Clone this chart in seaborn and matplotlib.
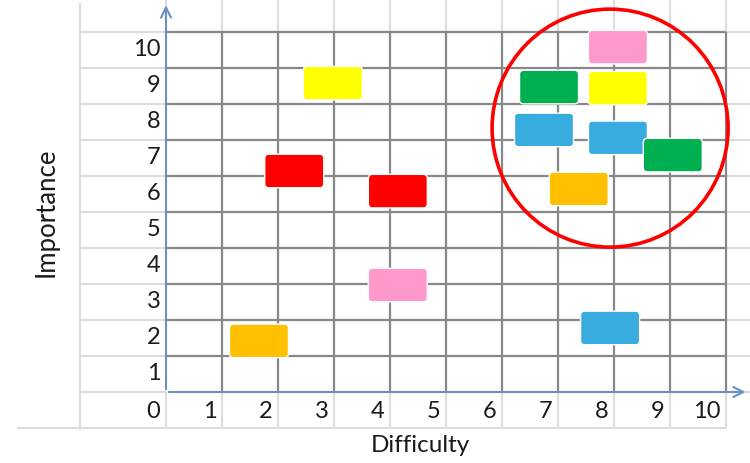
import numpy as np
import pandas as pd
import seaborn as sns
import matplotlib.pyplot as plt
from matplotlib.patches import FancyBboxPatch, Ellipse

# sticky notes on the difficulty / importance grid
difficulty = [2.98, 2.29, 4.14, 8.07, 6.84, 8.07, 6.75, 8.07, 9.05, 7.37, 4.14, 7.93, 1.66]
importance = [8.58, 6.14, 5.58, 9.58, 8.47, 8.44, 7.28, 7.06, 6.58, 5.64, 2.97, 1.78, 1.42]
colour = ['yellow', 'red', 'red', 'pink', 'green', 'yellow', 'blue', 'blue',
          'green', 'orange', 'pink', 'blue', 'orange']
palette = {'yellow': '#ffff00', 'red': '#ff0000', 'pink': '#ff99cc',
           'green': '#00b050', 'blue': '#38acdf', 'orange': '#ffc000'}

x_ticks = list(range(0, 11))
y_ticks = list(range(1, 11))

sns.set_style('white')
plt.rcParams['font.family'] = ['Lato', 'DejaVu Sans']

fig = plt.figure(figsize=(7.5, 4.63), dpi=100)
ax = fig.add_axes([0, 0, 1, 1])
# 56 px per difficulty unit, 36 px per importance unit, origin at (166, 392)
ax.set_xlim(-166 / 56, (750 - 166) / 56)
ax.set_ylim((392 - 463) / 36, 392 / 36)
ax.set_axis_off()

light = '#dcdcdc'
dark = '#888888'
txt = '#1a1a1a'

# spreadsheet cell lines around the chart
ax.vlines(x_ticks, 10, 11, color=light, lw=1.5, zorder=1)
ax.vlines(x_ticks, -1, 0, color=light, lw=1.5, zorder=1)
ax.hlines(list(range(0, 11)), -1.536, 0, color=light, lw=1.5, zorder=1)
ax.hlines(list(range(0, 11)), 10, 11, color=light, lw=1.5, zorder=1)
ax.hlines(-1, -2.66, 10, color=light, lw=1.5, zorder=1)
ax.vlines(-1.536, -1.05, 10.8, color=light, lw=1.5, zorder=1)

# dark grid
ax.vlines(x_ticks[1:], 0, 10, color=dark, lw=1.6, zorder=2)
ax.hlines(y_ticks, 0, 10, color=dark, lw=1.6, zorder=2)

# axes with arrows
blue = '#6a90c6'
ax.annotate('', xy=(0, 10.82), xytext=(0, 0),
            arrowprops=dict(arrowstyle='->', color=blue, lw=1.5, mutation_scale=18), zorder=3)
ax.annotate('', xy=(10.4, 0), xytext=(0, 0),
            arrowprops=dict(arrowstyle='->', color=blue, lw=1.5, mutation_scale=18), zorder=3)

# tick labels
for k in x_ticks:
    ax.text(k - 0.1, -0.55, str(k), ha='right', va='center', fontsize=17, color=txt)
for k in y_ticks:
    ax.text(-0.1, k - 0.5, str(k), ha='right', va='center', fontsize=17, color=txt)

ax.text(-2.14, 5.0, 'Importance', rotation=90, ha='center', va='center',
        fontsize=18.5, color=txt)
ax.text(4.54, -1.5, 'Difficulty', ha='center', va='center', fontsize=17.5, color=txt)

# rounded rectangle marker
w, h, r = 1.0, 33 / 58, 4 / 58
box = FancyBboxPatch((-w / 2 + r, -h / 2 + r), w - 2 * r, h - 2 * r,
                     boxstyle=f'round,pad={r}')
note = box.get_path()

df = pd.DataFrame({'difficulty': difficulty, 'importance': importance, 'colour': colour})
sns.scatterplot(data=df, x='difficulty', y='importance', hue='colour', palette=palette,
                marker=note, s=(59 * 0.72) ** 2, edgecolor='white', linewidth=1,
                legend=False, ax=ax, zorder=5)

ax.add_patch(Ellipse((7.93, 7.33), 236 / 56, 238 / 36, fill=False,
                     edgecolor='#ff0000', lw=2.6, zorder=6))

fig.savefig('out.png', dpi=100)
